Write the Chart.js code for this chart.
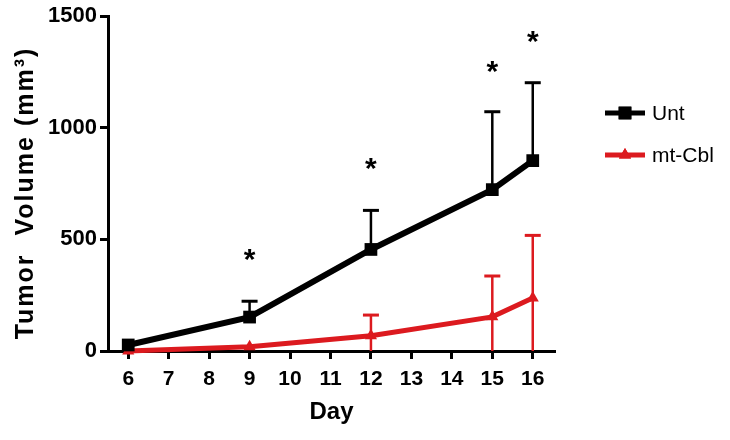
<!DOCTYPE html>
<html>
<head>
<meta charset="utf-8">
<script src="https://cdn.jsdelivr.net/npm/chart.js@4"></script>
<style>
  body { margin: 0; background: #fff; }
  #wrap { width: 730px; height: 440px; }
</style>
</head>
<body>
<div id="wrap"><canvas id="tumorChart" width="730" height="440"></canvas></div>
<script>
const days = [6, 9, 12, 15, 16];
const xTicks = [6, 7, 8, 9, 10, 11, 12, 13, 14, 15, 16];
const yTicks = [0, 500, 1000, 1500];

const untMean = [27, 152, 455, 723, 853];
const untErr = [0, 71, 175, 349, 349];
const mtMean = [0, 19, 68, 153, 237];
const mtErr = [0, 0, 93, 183, 281];

// significance stars: day and height
const starDays = [9, 12, 15, 16];
const starY = [420, 830, 1263, 1397];

const BLACK = '#000000';
const RED = '#dc1a1f';
const FONT = "'Liberation Sans', Arial, sans-serif";

const toPoints = (ys) => days.map((d, i) => ({ x: d, y: ys[i] }));

const errorBars = {
  id: 'errorBars',
  afterDatasetsDraw(chart) {
    const { ctx, scales: { x, y } } = chart;
    const sets = [
      { mean: mtMean, err: mtErr, color: RED, below: true },
      { mean: untMean, err: untErr, color: BLACK, below: false }
    ];
    ctx.save();
    sets.forEach(s => {
      ctx.strokeStyle = s.color;
      s.mean.forEach((m, i) => {
        if (!s.err[i]) return;
        const px = x.getPixelForValue(days[i]);
        const top = y.getPixelForValue(m + s.err[i]);
        const bot = y.getPixelForValue(s.below ? Math.max(0, m - s.err[i]) : m);
        ctx.lineWidth = 2.5;
        ctx.beginPath();
        ctx.moveTo(px, bot);
        ctx.lineTo(px, top);
        ctx.stroke();
        ctx.lineWidth = 3;
        ctx.beginPath();
        ctx.moveTo(px - 8, top);
        ctx.lineTo(px + 8, top);
        ctx.stroke();
      });
    });

    // stars
    ctx.fillStyle = BLACK;
    ctx.font = 'bold 30px ' + FONT;
    ctx.textAlign = 'center';
    ctx.textBaseline = 'alphabetic';
    starDays.forEach((d, i) => {
      const px = x.getPixelForValue(d);
      const py = y.getPixelForValue(starY[i]);
      ctx.fillText('*', px, py + 0.4 * 30);
    });
    ctx.restore();
  }
};

const extras = {
  id: 'extras',
  afterDraw(chart) {
    const { ctx } = chart;
    ctx.save();
    // y axis title
    ctx.translate(26, 193);
    ctx.rotate(-Math.PI / 2);
    ctx.fillStyle = BLACK;
    ctx.font = 'bold 25px ' + FONT;
    ctx.letterSpacing = '2px';
    ctx.textAlign = 'center';
    ctx.textBaseline = 'middle';
    ctx.fillText('Tumor  Volume (mm³)', 0, 0);
    ctx.restore();

    // legend
    const items = [
      { label: 'Unt', color: BLACK, style: 'rect', radius: 9, lw: 5, y: 113 },
      { label: 'mt-Cbl', color: RED, style: 'triangle', radius: 7, lw: 5, y: 155 }
    ];
    ctx.save();
    items.forEach(it => {
      ctx.strokeStyle = it.color;
      ctx.lineWidth = it.lw;
      ctx.beginPath();
      ctx.moveTo(605, it.y);
      ctx.lineTo(645, it.y);
      ctx.stroke();
      ctx.fillStyle = it.color;
      Chart.helpers.drawPoint(ctx, {
        pointStyle: it.style, radius: it.radius, rotation: 0, borderWidth: 0
      }, 625, it.y);
      ctx.fill();
      ctx.fillStyle = BLACK;
      ctx.font = '21px ' + FONT;
      ctx.textAlign = 'left';
      ctx.textBaseline = 'middle';
      ctx.fillText(it.label, 652, it.y + 1);
    });
    ctx.restore();
  }
};

new Chart(document.getElementById('tumorChart'), {
  type: 'line',
  data: {
    datasets: [
      {
        label: 'Unt',
        data: toPoints(untMean),
        borderColor: BLACK,
        backgroundColor: BLACK,
        borderWidth: 6,
        pointStyle: 'rect',
        pointRadius: 9,
        pointBorderWidth: 0,
        tension: 0,
        clip: false
      },
      {
        label: 'mt-Cbl',
        data: toPoints(mtMean),
        borderColor: RED,
        backgroundColor: RED,
        borderWidth: 5,
        pointStyle: 'triangle',
        pointRadius: 7,
        pointBorderWidth: 0,
        tension: 0,
        clip: false
      }
    ]
  },
  options: {
    responsive: false,
    animation: false,
    layout: { padding: { left: 0, right: 175, top: 15, bottom: 0 } },
    plugins: {
      legend: { display: false },
      tooltip: { enabled: false }
    },
    scales: {
      x: {
        type: 'linear',
        min: 5.5,
        max: 16.55,
        afterBuildTicks: (scale) => { scale.ticks = xTicks.map(v => ({ value: v })); },
        afterFit: (scale) => { scale.height = 89; },
        border: { color: BLACK, width: 3 },
        grid: { drawOnChartArea: false, drawTicks: true, tickLength: 8, tickWidth: 3, tickColor: BLACK },
        ticks: {
          color: BLACK,
          font: { family: FONT, size: 21, weight: 'bold' },
          padding: 8,
          maxRotation: 0,
          autoSkip: false
        },
        title: {
          display: true,
          text: 'Day',
          color: BLACK,
          font: { family: FONT, size: 24, weight: 'bold' },
          padding: { top: 0, bottom: 13 }
        }
      },
      y: {
        min: 0,
        max: 1500,
        afterBuildTicks: (scale) => { scale.ticks = yTicks.map(v => ({ value: v })); },
        afterFit: (scale) => { scale.width = 108; },
        border: { color: BLACK, width: 3 },
        grid: { drawOnChartArea: false, drawTicks: true, tickLength: 8, tickWidth: 3, tickColor: BLACK },
        ticks: {
          color: BLACK,
          font: { family: FONT, size: 22, weight: 'bold' },
          padding: 3,
          callback: (v) => String(v)
        }
      }
    }
  },
  plugins: [errorBars, extras]
});
</script>
</body>
</html>
